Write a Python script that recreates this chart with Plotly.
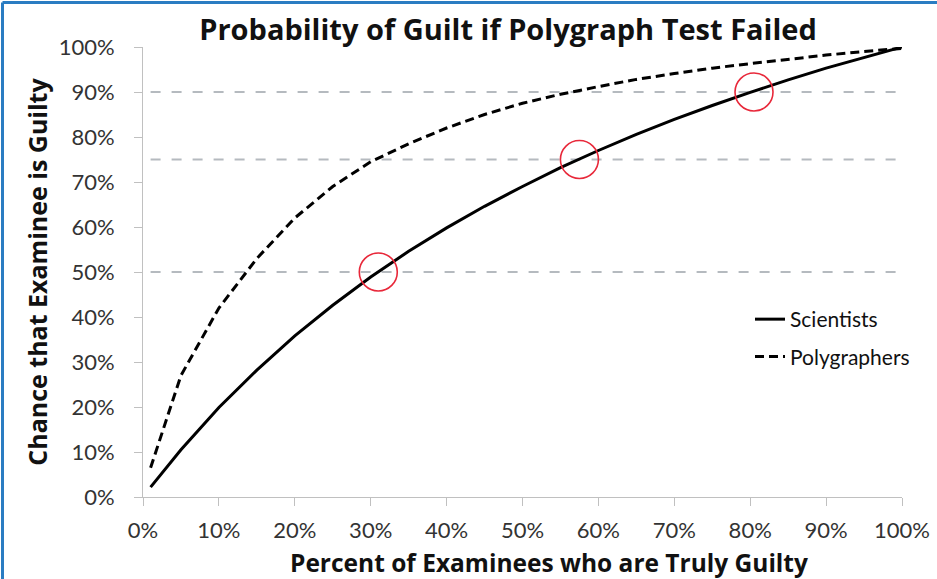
import plotly.graph_objects as go

# Data (percent)
x_pct = [1, 5, 10, 15, 20, 25, 30, 35, 40, 45, 50, 55, 60, 65, 70, 75, 80, 85, 90, 95, 100]
scientists = [2.2, 10.5, 19.9, 28.2, 35.8, 42.6, 48.9, 54.6, 59.8, 64.6, 69.0, 73.2, 77.0, 80.6, 83.9, 87.0, 89.9, 92.7, 95.3, 97.7, 100]
polygraphers = [6.5, 27, 42, 53, 62, 69, 74.5, 78.5, 82, 85, 87.5, 89.5, 91.2, 92.8, 94.1, 95.3, 96.3, 97.3, 98.2, 99.0, 99.7]
ref_levels = [50, 75, 90]
ref_x = [1, 100]
circle_x = [31, 57.5, 80.5]
circle_y = [50, 75, 90]
tick_vals = list(range(0, 101, 10))
tick_text = [f"{v}%" for v in tick_vals]

FONT = "Lato"
BFONT = "Open Sans"
fig = go.Figure()

for lvl in ref_levels:
    fig.add_trace(go.Scatter(x=ref_x, y=[lvl, lvl], mode="lines",
                             line=dict(color="#b5babf", width=2, dash="10px,11px"),
                             showlegend=False, hoverinfo="skip"))

fig.add_trace(go.Scatter(x=x_pct, y=scientists, mode="lines", name="Scientists",
                         line=dict(color="black", width=3), legendgroup="a"))
fig.add_trace(go.Scatter(x=x_pct, y=polygraphers, mode="lines", name="Polygraphers",
                         line=dict(color="black", width=3, dash="9px,5px"), legendgroup="b"))

fig.add_trace(go.Scatter(x=circle_x, y=circle_y, mode="markers",
                         marker=dict(symbol="circle-open", size=38, color="#e8283a",
                                     line=dict(width=1.6, color="#e8283a")),
                         showlegend=False, hoverinfo="skip"))

L, R, T, B = 143, 35, 47, 82
W, H = 937, 579
pw, ph = W - L - R, H - T - B
# blue frame lines (top and left)
fx0 = (2.5 - L) / pw
fy1 = (H - B - 2.5) / ph
fig.add_shape(type="line", xref="paper", yref="paper", x0=fx0, x1=(W - L) / pw + 0.01, y0=fy1, y1=fy1,
              line=dict(color="#2a7cc2", width=3))
fig.add_shape(type="line", xref="paper", yref="paper", x0=fx0, x1=fx0, y0=fy1, y1=-B / ph - 0.01,
              line=dict(color="#2a7cc2", width=3))

# x-axis title as an annotation (it sits right of the plot centre in the original)
fig.add_annotation(text="<b>Percent of Examinees who are Truly Guilty</b>",
                   xref="paper", yref="paper", x=(549 - L) / pw, y=-(562 - (H - B)) / ph,
                   xanchor="center", yanchor="middle", showarrow=False,
                   font=dict(size=24.5, family=BFONT, color="#111111"))

fig.update_layout(
    width=W, height=H,
    margin=dict(l=L, r=R, t=T, b=B),
    paper_bgcolor="white", plot_bgcolor="white",
    font=dict(family=FONT, color="#222222"),
    title=dict(text="<b>Probability of Guilt if Polygraph Test Failed</b>",
               x=508 / W, xanchor="center", y=1 - 30 / H, yanchor="middle",
               font=dict(size=29, family=BFONT, color="#111111")),
    showlegend=True,
    legend=dict(x=(750 - L) / pw, y=(H - B - 299) / ph, xanchor="left", yanchor="top",
                font=dict(size=21, family=FONT, color="#111111"),
                bgcolor="rgba(0,0,0,0)", tracegroupgap=7, traceorder="grouped"),
    xaxis=dict(range=[0, 100], tickvals=tick_vals, ticktext=tick_text,
               showgrid=False, zeroline=False, showline=True, linecolor="#c0c0c0", linewidth=1,
               ticks="outside", ticklen=8, tickcolor="#c0c0c0", automargin=False,
               tickfont=dict(size=22, family=FONT, color="#333333"), ticklabelstandoff=6),
    yaxis=dict(range=[0, 100], tickvals=tick_vals, ticktext=tick_text,
               showgrid=False, zeroline=False, showline=True, linecolor="#c0c0c0", linewidth=1,
               ticks="outside", ticklen=8, tickcolor="#c0c0c0", automargin=False,
               tickfont=dict(size=22, family=FONT, color="#333333"), ticklabelstandoff=15,
               title=dict(text="<b>Chance that Examinee is Guilty</b>",
                          font=dict(size=25, family=BFONT, color="#111111"), standoff=3)),
)

fig.write_html("out.html", config={"displayModeBar": False},
               post_script="document.body.style.margin='0';document.body.style.overflow='hidden';")
